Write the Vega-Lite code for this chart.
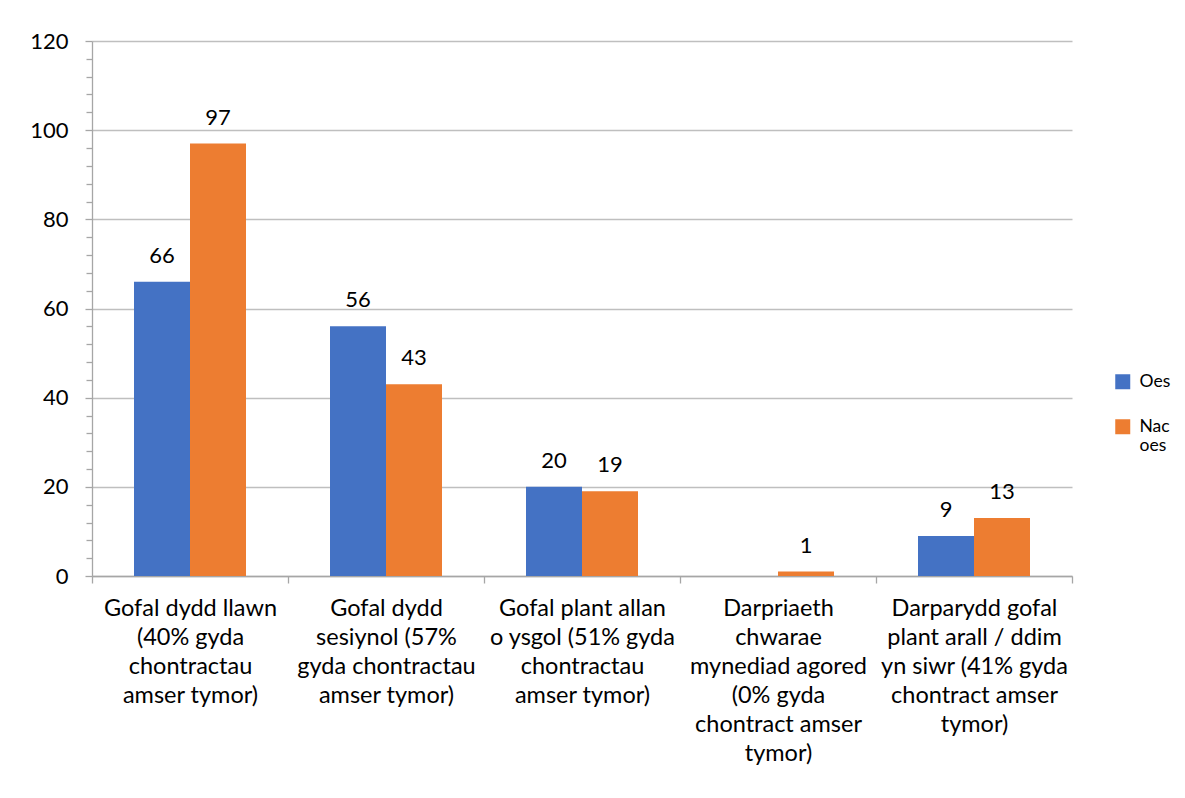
{
  "$schema": "https://vega.github.io/schema/vega-lite/v6.json",
  "autosize": "none",
  "width": 980,
  "height": 535,
  "padding": {"left": 92, "top": 41, "right": 113, "bottom": 222},
  "background": "white",
  "data": {
    "values": [
      {"category": "Gofal dydd llawn|(40% gyda|chontractau|amser tymor)", "series": "Oes", "value": 66},
      {"category": "Gofal dydd llawn|(40% gyda|chontractau|amser tymor)", "series": "Nac oes", "value": 97},
      {"category": "Gofal dydd|sesiynol (57%|gyda chontractau|amser tymor)", "series": "Oes", "value": 56},
      {"category": "Gofal dydd|sesiynol (57%|gyda chontractau|amser tymor)", "series": "Nac oes", "value": 43},
      {"category": "Gofal plant allan|o ysgol (51% gyda|chontractau|amser tymor)", "series": "Oes", "value": 20},
      {"category": "Gofal plant allan|o ysgol (51% gyda|chontractau|amser tymor)", "series": "Nac oes", "value": 19},
      {"category": "Darpriaeth|chwarae|mynediad agored|(0% gyda|chontract amser|tymor)", "series": "Oes", "value": 0},
      {"category": "Darpriaeth|chwarae|mynediad agored|(0% gyda|chontract amser|tymor)", "series": "Nac oes", "value": 1},
      {"category": "Darparydd gofal|plant arall / ddim|yn siwr (41% gyda|chontract amser|tymor)", "series": "Oes", "value": 9},
      {"category": "Darparydd gofal|plant arall / ddim|yn siwr (41% gyda|chontract amser|tymor)", "series": "Nac oes", "value": 13}
    ]
  },
  "encoding": {
    "x": {
      "field": "category", "type": "nominal", "sort": null, "title": null,
      "scale": {"paddingInner": 0, "paddingOuter": 0},
      "axis": {
        "labelAngle": 0, "labelExpr": "split(datum.label, '|')",
        "labelFont": "Lato", "labelFontSize": 23.5, "labelColor": "#000000",
        "labelLineHeight": 29, "labelPadding": 13, "labelLimit": 300,
        "tickBand": "extent", "ticks": true, "tickSize": 7, "tickColor": "#a6a6a6", "tickWidth": 1.3,
        "domainColor": "#a6a6a6", "domainWidth": 1.3, "grid": false
      }
    },
    "xOffset": {"field": "series", "type": "nominal", "sort": ["Oes", "Nac oes"], "scale": {"paddingInner": 0, "paddingOuter": 0.75}},
    "y": {
      "field": "value", "type": "quantitative", "title": null,
      "scale": {"domain": [0, 120], "nice": false},
      "axis": {
        "values": [0,4,8,12,16,20,24,28,32,36,40,44,48,52,56,60,64,68,72,76,80,84,88,92,96,100,104,108,112,116,120],
        "labelExpr": "datum.value % 20 === 0 ? datum.label : ''",
        "labelFont": "Lato", "labelFontSize": 22, "labelColor": "#000000", "labelPadding": 17,
        "domainColor": "#a6a6a6", "domainWidth": 1.3,
        "tickColor": "#a6a6a6", "tickWidth": 1.3,
        "tickSize": {"condition": {"test": "datum.value % 20 === 0", "value": 7}, "value": 6},
        "grid": true, "gridColor": {"condition": {"test": "datum.value % 20 === 0", "value": "#bfbfbf"}, "value": null},
        "gridWidth": 1.3
      }
    }
  },
  "layer": [
    {
      "mark": {"type": "bar"},
      "encoding": {
        "color": {
          "field": "series", "type": "nominal", "sort": ["Oes", "Nac oes"],
          "scale": {"domain": ["Oes", "Nac oes"], "range": ["#4472C4", "#ED7D31"]},
          "legend": {
            "title": null, "orient": "none", "legendX": 1022, "legendY": 332,
            "symbolType": "square", "symbolSize": 225, "symbolStrokeWidth": 0,
            "labelFont": "Lato", "labelFontSize": 17.5, "labelColor": "#000000", "labelLineHeight": 20,
            "labelExpr": "datum.label == 'Nac oes' ? ['Nac', 'oes'] : datum.label",
            "rowPadding": 26, "labelOffset": 8
          }
        }
      }
    },
    {
      "transform": [{"filter": "datum.value > 0"}],
      "mark": {"type": "text", "baseline": "alphabetic", "dy": -19, "font": "Lato", "fontSize": 22, "color": "#000000"},
      "encoding": {"text": {"field": "value", "type": "quantitative"}}
    }
  ],
  "config": {"view": {"stroke": null}}
}
